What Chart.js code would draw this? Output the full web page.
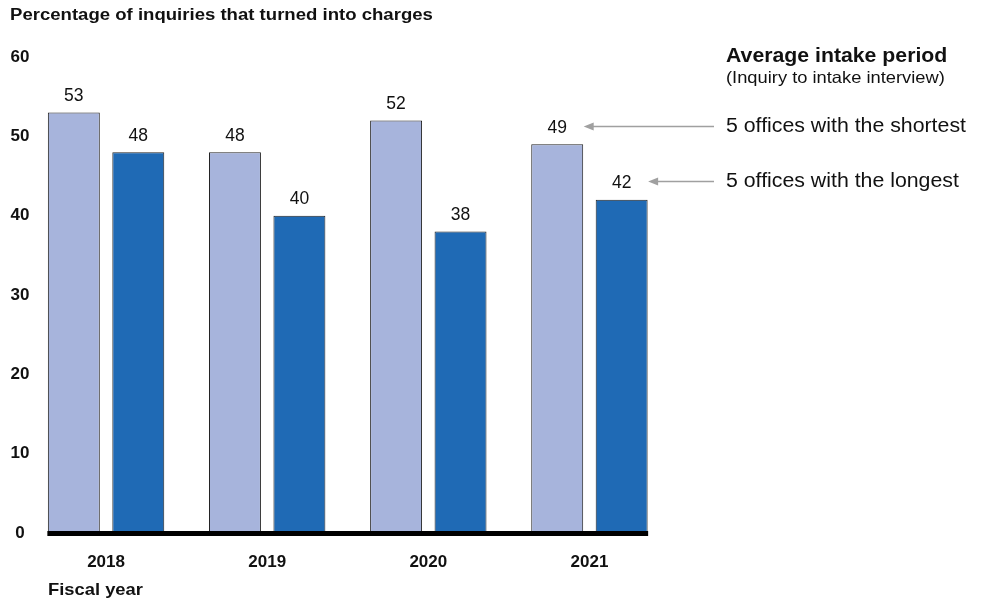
<!DOCTYPE html>
<html>
<head>
<meta charset="utf-8">
<script src="https://cdn.jsdelivr.net/npm/chart.js@4"></script>
<style>
  html, body { margin: 0; padding: 0; background: #fff; }
  #wrap { width: 985px; height: 603px; position: relative; }
</style>
</head>
<body>
<div id="wrap"><canvas id="c" width="985" height="603"></canvas></div>
<script>
const categories = ['2018', '2019', '2020', '2021'];
const shortestValues = [53, 48, 52, 49];
const longestValues = [48, 40, 38, 42];
const seriesNames = ['5 offices with the shortest', '5 offices with the longest'];
const yTicks = [0, 10, 20, 30, 40, 50, 60];
const chartTitle = 'Percentage of inquiries that turned into charges';
const xTitle = 'Fiscal year';
const legendTitle = 'Average intake period';
const legendSubtitle = '(Inquiry to intake interview)';

const FONT = "'Liberation Sans', Arial, sans-serif";
const LIGHT = '#A7B4DC';
const DARK = '#1F6AB5';

function stretchedText(ctx, text, x, y, font, sx) {
  ctx.save();
  ctx.font = font;
  ctx.translate(x, y);
  ctx.scale(sx, 1);
  ctx.fillText(text, 0, 0);
  ctx.restore();
}

const textPlugin = {
  id: 'texts',
  afterDatasetsDraw(chart) {
    const ctx = chart.ctx;
    ctx.save();
    // data labels
    ctx.fillStyle = '#111';
    ctx.font = '17.5px ' + FONT;
    ctx.textAlign = 'center';
    ctx.textBaseline = 'middle';
    chart.data.datasets.forEach((ds, di) => {
      const meta = chart.getDatasetMeta(di);
      meta.data.forEach((bar, i) => {
        ctx.fillText(String(ds.data[i]), bar.x, bar.y - 16.5);
      });
    });
    // baseline
    const m0 = chart.getDatasetMeta(0).data;
    const m1 = chart.getDatasetMeta(1).data;
    const first = m0[0], last = m1[m1.length - 1];
    const y0 = chart.scales.y.getPixelForValue(0);
    const bx0 = first.x - first.width / 2 - 0.5;
    const bx1 = last.x + last.width / 2 + 0.5;
    ctx.fillStyle = '#000';
    ctx.fillRect(bx0, y0 - 2, bx1 - bx0, 5);

    // title
    ctx.textAlign = 'left';
    ctx.fillStyle = '#111';
    stretchedText(ctx, chartTitle, 10, 15, 'bold 17.2px ' + FONT, 1.08);
    // x title
    stretchedText(ctx, xTitle, 48, 590, 'bold 17px ' + FONT, 1.08);

    // legend block
    const lx = 726;
    stretchedText(ctx, legendTitle, lx, 57, 'bold 19.5px ' + FONT, 1.09);
    stretchedText(ctx, legendSubtitle, lx, 78.5, '16.5px ' + FONT, 1.11);

    const lastIdx = categories.length - 1;
    [0, 1].forEach(di => {
      const bar = chart.getDatasetMeta(di).data[lastIdx];
      const ay = Math.round(bar.y - 18.5) + 0.5;
      const tipX = bar.x + bar.width / 2 + 0.5;
      const tailX = lx - 12;
      ctx.strokeStyle = '#a0a0a0';
      ctx.fillStyle = '#a0a0a0';
      ctx.lineWidth = 1.5;
      ctx.beginPath();
      ctx.moveTo(tailX, ay);
      ctx.lineTo(tipX + 6, ay);
      ctx.stroke();
      ctx.beginPath();
      ctx.moveTo(tipX, ay);
      ctx.lineTo(tipX + 10, ay - 4);
      ctx.lineTo(tipX + 10, ay + 4);
      ctx.closePath();
      ctx.fill();
      ctx.fillStyle = '#111';
      stretchedText(ctx, seriesNames[di], lx, ay, '20px ' + FONT, 1.065);
    });
    ctx.restore();
  }
};

new Chart(document.getElementById('c'), {
  type: 'bar',
  data: {
    labels: categories,
    datasets: [
      { label: seriesNames[0], data: shortestValues, backgroundColor: LIGHT, borderColor: '#222', borderWidth: 1, categoryPercentage: 0.80, barPercentage: 0.806 },
      { label: seriesNames[1], data: longestValues, backgroundColor: DARK, borderColor: '#222', borderWidth: 1, categoryPercentage: 0.80, barPercentage: 0.806 }
    ]
  },
  options: {
    responsive: false,
    animation: false,
    devicePixelRatio: 1,
    layout: { padding: { top: 57, right: 315, bottom: 0, left: 0 } },
    plugins: { legend: { display: false }, title: { display: false }, tooltip: { enabled: false } },
    scales: {
      x: {
        grid: { display: false, drawTicks: false },
        border: { display: false },
        ticks: { color: '#111', font: { family: FONT, size: 17, weight: 'bold' }, padding: 19 },
        afterFit(scale) { scale.height = 70; }
      },
      y: {
        min: 0, max: 60,
        afterBuildTicks(scale) { scale.ticks = yTicks.map(v => ({ value: v })); },
        grid: { display: false, drawTicks: false },
        border: { display: false },
        ticks: { color: '#111', font: { family: FONT, size: 17, weight: 'bold' }, mirror: true, crossAlign: 'center', padding: -15 },
        afterFit(scale) { scale.width = 25.5; }
      }
    }
  },
  plugins: [textPlugin]
});
</script>
</body>
</html>
